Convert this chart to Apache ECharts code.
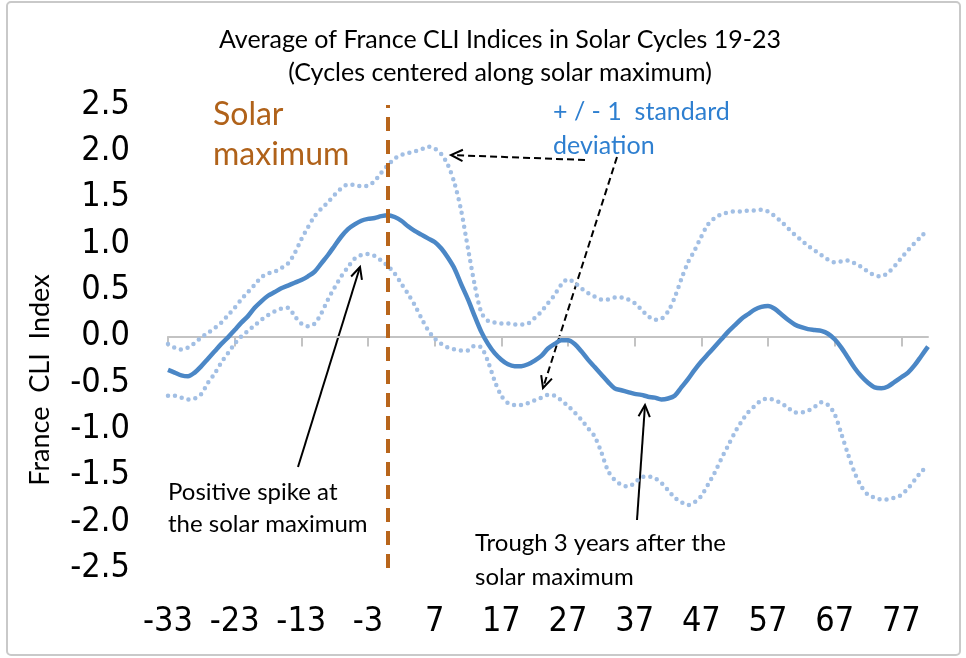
<!DOCTYPE html>
<html>
<head>
<meta charset="utf-8">
<script src="https://cdn.jsdelivr.net/npm/echarts@6/dist/echarts.min.js"></script>
<style>
	html, body { margin: 0; padding: 0; background: #fff; }
	#chart { width: 966px; height: 658px; }
</style>
</head>
<body>
<div id="chart"></div>
<script>
// months relative to solar maximum
var lags = [-33,-32,-31,-30,-29,-28,-27,-26,-25,-24,-23,-22,-21,-20,-19,-18,-17,-16,-15,-14,-13,-12,-11,-10,-9,-8,-7,-6,-5,-4,-3,-2,-1,
	0,1,2,3,4,5,6,7,8,9,10,11,12,13,14,15,16,17,18,19,20,21,22,23,24,25,26,27,28,29,30,31,32,33,34,35,36,37,38,39,40,
	41,42,43,44,45,46,47,48,49,50,51,52,53,54,55,56,57,58,59,60,61,62,63,64,65,66,67,68,69,70,71,72,73,74,75,76,77,78,79,80,81];

var meanCli = [-0.36,-0.39,-0.42,-0.43,-0.39,-0.32,-0.24,-0.16,-0.08,-0.01,0.07,0.15,0.22,0.31,0.38,0.44,0.48,0.52,0.55,0.58,0.61,0.65,0.70,0.79,0.88,0.98,1.08,1.16,1.21,1.25,1.27,1.28,1.30,
	1.31,1.29,1.25,1.19,1.14,1.10,1.06,1.02,0.95,0.85,0.73,0.56,0.40,0.22,0.05,-0.08,-0.18,-0.25,-0.30,-0.32,-0.32,-0.30,-0.26,-0.21,-0.13,-0.08,-0.04,-0.04,-0.08,-0.16,-0.25,-0.33,-0.41,-0.49,-0.56,-0.58,-0.60,-0.62,-0.63,-0.65,-0.66,
	-0.68,-0.67,-0.64,-0.55,-0.46,-0.36,-0.27,-0.19,-0.11,-0.03,0.05,0.12,0.19,0.24,0.29,0.32,0.33,0.30,0.24,0.18,0.13,0.10,0.08,0.07,0.06,0.03,-0.03,-0.12,-0.23,-0.34,-0.43,-0.50,-0.55,-0.56,-0.54,-0.49,-0.44,-0.39,-0.31,-0.21,-0.11];

var upperCli = [-0.08,-0.12,-0.14,-0.12,-0.07,-0.01,0.04,0.09,0.15,0.23,0.31,0.40,0.48,0.56,0.64,0.68,0.70,0.74,0.79,0.90,1.05,1.18,1.30,1.38,1.45,1.53,1.60,1.64,1.64,1.62,1.63,1.68,1.77,
	1.85,1.92,1.96,1.98,2.00,2.02,2.05,2.03,1.97,1.85,1.65,1.35,0.95,0.56,0.26,0.17,0.15,0.14,0.14,0.13,0.13,0.14,0.20,0.27,0.36,0.45,0.56,0.62,0.58,0.52,0.47,0.43,0.40,0.40,0.42,0.42,0.40,0.36,0.29,0.22,0.18,
	0.19,0.27,0.42,0.62,0.80,0.93,1.08,1.21,1.28,1.32,1.34,1.35,1.35,1.36,1.36,1.37,1.35,1.30,1.24,1.17,1.10,1.04,0.98,0.93,0.88,0.83,0.80,0.81,0.82,0.79,0.75,0.70,0.66,0.65,0.69,0.76,0.85,0.93,1.01,1.08,1.16];

var lowerCli = [-0.64,-0.64,-0.66,-0.68,-0.67,-0.62,-0.50,-0.40,-0.28,-0.18,-0.08,0.00,0.06,0.12,0.18,0.23,0.27,0.30,0.31,0.22,0.14,0.11,0.14,0.25,0.40,0.53,0.65,0.75,0.84,0.88,0.89,0.87,0.82,
	0.76,0.68,0.57,0.46,0.34,0.20,0.07,-0.02,-0.08,-0.12,-0.14,-0.15,-0.15,-0.10,-0.12,-0.27,-0.48,-0.64,-0.72,-0.74,-0.74,-0.72,-0.69,-0.66,-0.63,-0.64,-0.69,-0.75,-0.82,-0.90,-0.99,-1.08,-1.25,-1.45,-1.55,-1.60,-1.62,-1.58,-1.52,-1.51,-1.53,
	-1.58,-1.66,-1.74,-1.79,-1.82,-1.79,-1.72,-1.60,-1.47,-1.32,-1.18,-1.04,-0.92,-0.82,-0.75,-0.69,-0.67,-0.69,-0.72,-0.77,-0.82,-0.82,-0.80,-0.76,-0.71,-0.74,-0.84,-1.05,-1.27,-1.47,-1.62,-1.71,-1.74,-1.76,-1.76,-1.74,-1.71,-1.64,-1.55,-1.46,-1.40];

var yTicks = { min: -2.5, max: 2.5, step: 0.5 };

var FONT = 'Lato, "Open Sans", sans-serif';
var NARROW = '"Liberation Sans Narrow", "DejaVu Sans Condensed", sans-serif';

//箭头: 线段 + 两条短边
function arrow(x1, y1, x2, y2, dashed){
	var ang = Math.atan2(y2 - y1, x2 - x1);
	var len = 13, spread = 0.45;
	var style = { stroke: '#000', lineWidth: 2, lineDash: dashed ? [7, 4] : null };
	var headStyle = { stroke: '#000', lineWidth: 2 };
	return {
		type: 'group',
		children: [
			{ type: 'line', shape: { x1: x1, y1: y1, x2: x2, y2: y2 }, style: style },
			{ type: 'polyline', shape: { points: [
				[x2 - len * Math.cos(ang - spread), y2 - len * Math.sin(ang - spread)],
				[x2, y2],
				[x2 - len * Math.cos(ang + spread), y2 - len * Math.sin(ang + spread)]
			] }, style: headStyle }
		]
	};
}

function txt(x, y, s, size, color){
	return { type: 'text', x: x, y: y, style: { text: s, font: size + 'px ' + FONT, fill: color, textVerticalAlign: 'middle' } };
}

var tickEvery10 = function(index){ return index % 10 === 0; };

var chart = echarts.init(document.getElementById('chart'));
var option = {
	animation: false,
	grid: { left: 168, top: 105, width: 760, height: 463, containLabel: false },
	xAxis: [
		{
			type: 'category',
			data: lags,
			boundaryGap: false,
			axisLine: { onZero: true, lineStyle: { color: '#c3c3c3', width: 2 } },
			axisTick: { interval: tickEvery10, length: 10, lineStyle: { color: '#c3c3c3', width: 2 } },
			axisLabel: { show: false },
			splitLine: { show: false }
		},
		{
			type: 'category',
			data: lags,
			boundaryGap: false,
			position: 'bottom',
			axisLine: { show: false, onZero: false },
			axisTick: { show: false },
			axisLabel: { interval: tickEvery10, margin: 37, color: '#000', fontSize: 34, fontFamily: NARROW },
			splitLine: { show: false }
		}
	],
	yAxis: {
		type: 'value',
		min: yTicks.min,
		max: yTicks.max,
		interval: yTicks.step,
		axisLine: { show: false },
		axisTick: { show: false },
		splitLine: { show: false },
		axisLabel: {
			margin: 38, color: '#000', fontSize: 34, fontFamily: NARROW,
			formatter: function(v){ return v.toFixed(1); }
		}
	},
	series: [
		{
			name: '+1 sd',
			type: 'line',
			data: upperCli,
			showSymbol: false,
			smooth: 0.3,
			lineStyle: { color: '#a2bfe4', width: 4.5, type: [0, 7], cap: 'round' }
		},
		{
			name: '-1 sd',
			type: 'line',
			data: lowerCli,
			showSymbol: false,
			smooth: 0.3,
			lineStyle: { color: '#a2bfe4', width: 4.5, type: [0, 7], cap: 'round' }
		},
		{
			name: 'Average',
			type: 'line',
			data: meanCli,
			showSymbol: false,
			smooth: 0.3,
			lineStyle: { color: '#4b87c6', width: 4.5 },
			markLine: {
				silent: true,
				symbol: 'none',
				label: { show: false },
				lineStyle: { color: '#b8651b', width: 4, type: [14, 9] },
				data: [{ xAxis: '0' }]
			}
		}
	],
	graphic: [
		{ type: 'rect', shape: { x: 7, y: 2, width: 953, height: 653, r: 4 }, style: { fill: 'none', stroke: '#c9c9c9', lineWidth: 2 } },
		{ type: 'text', x: 500, y: 40, style: { text: 'Average of France CLI Indices in Solar Cycles 19-23', font: '25px ' + FONT, fill: '#000', textAlign: 'center', textVerticalAlign: 'middle' } },
		{ type: 'text', x: 500, y: 73, style: { text: '(Cycles centered along solar maximum)', font: '25px ' + FONT, fill: '#000', textAlign: 'center', textVerticalAlign: 'middle' } },
		{ type: 'text', x: 40, y: 380, rotation: Math.PI / 2, style: { text: 'France  CLI  Index', font: '27px ' + FONT, fill: '#000', textAlign: 'center', textVerticalAlign: 'middle' } },
		txt(213, 115, 'Solar', 32, '#b0621a'),
		txt(213, 155, 'maximum', 32, '#b0621a'),
		txt(553, 112, '+ / - 1  standard', 25, '#2e7fd0'),
		txt(553, 146, 'deviation', 25, '#2e7fd0'),
		txt(168, 492, 'Positive spike at', 24, '#000'),
		txt(168, 524, 'the solar maximum', 24, '#000'),
		txt(475, 543, 'Trough 3 years after the', 24, '#000'),
		txt(475, 577, 'solar maximum', 24, '#000'),
		arrow(298, 467, 360, 267, false),
		arrow(637, 520, 645, 405, false),
		arrow(585, 160, 451, 155, true),
		arrow(617, 157, 543, 388, true)
	]
};
chart.setOption(option);
</script>
</body>
</html>
